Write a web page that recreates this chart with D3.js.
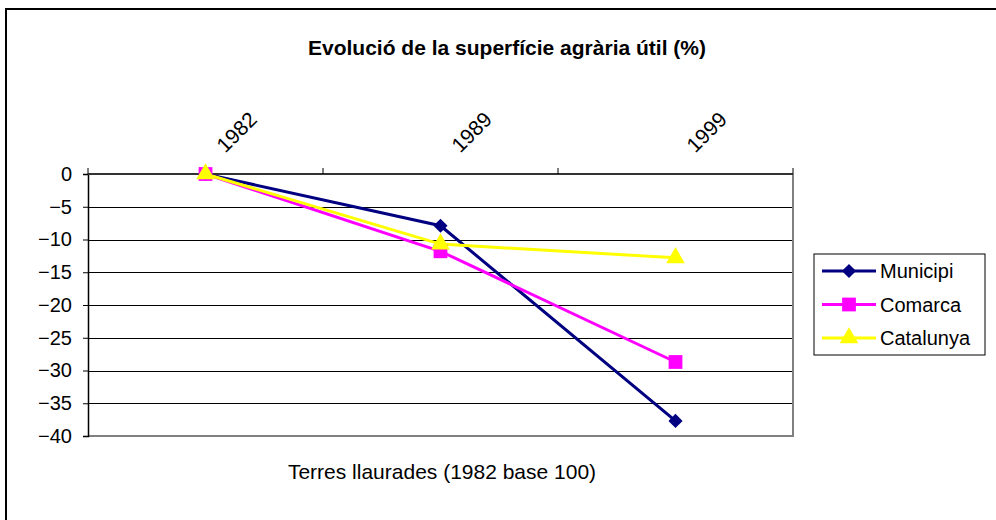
<!DOCTYPE html>
<html>
<head>
<meta charset="utf-8">
<script src="https://cdn.jsdelivr.net/npm/d3@7"></script>
<style>
  body { margin: 0; background: #fff; }
  text { font-family: "Liberation Sans", Arial, sans-serif; fill: #000; }
</style>
</head>
<body>
<div id="chart"></div>
<script>
var years = ["1982", "1989", "1999"];
var municipi = [0, -7.9, -37.7];
var comarca = [0, -11.8, -28.7];
var catalunya = [0, -10.7, -12.8];
var yTicks = [0, -5, -10, -15, -20, -25, -30, -35, -40];

// diamond = square turned 45 degrees
var series = [
    {name: "Municipi", values: municipi, color: "#000080", shape: d3.symbolSquare, size: 100, turn: 45},
    {name: "Comarca", values: comarca, color: "#ff00ff", shape: d3.symbolSquare, size: 190, turn: 0},
    {name: "Catalunya", values: catalunya, color: "#ffff00", shape: d3.symbolTriangle, size: 150, turn: 0}
];

var width = 996,
    height = 520,
    plotLeft = 88,
    plotRight = 793,
    plotTop = 174,
    plotBottom = 436;

var svg = d3.select('#chart')
    .append('svg')
    .attr('width', width)
    .attr('height', height);

// outer frame (runs off the right and bottom edges)
svg.append('rect')
    .attr('x', 6).attr('y', 9)
    .attr('width', 1100).attr('height', 600)
    .attr('fill', 'none')
    .attr('stroke', '#000')
    .attr('stroke-width', 2);

var x = d3.scaleBand().domain(years).range([plotLeft, plotRight]);
var y = d3.scaleLinear().domain([-40, 0]).range([plotBottom, plotTop]);

// gridlines
svg.append('g')
    .selectAll('line')
    .data(yTicks.filter(function (d) { return d < 0 && d > -40; }))
    .enter()
    .append('line')
    .attr('x1', plotLeft).attr('x2', plotRight)
    .attr('y1', function (d) { return Math.round(y(d)) + 0.5; })
    .attr('y2', function (d) { return Math.round(y(d)) + 0.5; })
    .attr('stroke', '#000')
    .attr('stroke-width', 1);

// plot border right + bottom (grey)
svg.append('path')
    .attr('d', 'M' + plotRight + ',' + plotTop + 'V' + plotBottom + 'H' + plotLeft)
    .attr('fill', 'none')
    .attr('stroke', '#808080')
    .attr('stroke-width', 2);

// y axis
var yAxis = svg.append('g')
    .attr('transform', 'translate(' + plotLeft + ',0)')
    .call(d3.axisLeft(y).tickValues(yTicks).tickSize(5).tickPadding(11).tickFormat(d3.format('d')));
yAxis.select('.domain').attr('stroke', '#000').attr('stroke-width', 1.5);
yAxis.selectAll('.tick line').attr('stroke', '#000');
yAxis.selectAll('text')
    .style('font-family', '"Liberation Sans", Arial, sans-serif')
    .style('font-size', '20px')
    .attr('fill', '#000');

// x axis on top, category boundaries as ticks
var xAxis = svg.append('g')
    .attr('transform', 'translate(0,' + plotTop + ')');
xAxis.append('line')
    .attr('x1', plotLeft).attr('x2', plotRight)
    .attr('y1', 0).attr('y2', 0)
    .attr('stroke', '#333')
    .attr('stroke-width', 2);
var bounds = years.map(function (d) { return x(d); }).concat([plotRight]);
xAxis.selectAll('.bt')
    .data(bounds)
    .enter()
    .append('line')
    .attr('class', 'bt')
    .attr('x1', function (d) { return d; })
    .attr('x2', function (d) { return d; })
    .attr('y1', 0).attr('y2', -6)
    .attr('stroke', '#000')
    .attr('stroke-width', 1);
xAxis.selectAll('.lbl')
    .data(years)
    .enter()
    .append('text')
    .attr('class', 'lbl')
    .attr('text-anchor', 'middle')
    .attr('dominant-baseline', 'central')
    .style('font-size', '21px')
    .attr('transform', function (d) {
        return 'translate(' + (x(d) + x.bandwidth() / 2 + 31) + ',-42) rotate(-45)';
    })
    .text(function (d) { return d; });

// lines and markers
var cx = function (i) { return x(years[i]) + x.bandwidth() / 2; };
var line = d3.line()
    .x(function (d, i) { return cx(i); })
    .y(function (d) { return y(d); });

series.forEach(function (s) {
    svg.append('path')
        .datum(s.values)
        .attr('d', line)
        .attr('fill', 'none')
        .attr('stroke', s.color)
        .attr('stroke-width', 3);
});
series.forEach(function (s) {
    svg.append('g')
        .selectAll('path')
        .data(s.values)
        .enter()
        .append('path')
        .attr('d', d3.symbol().type(s.shape).size(s.size))
        .attr('transform', function (d, i) {
            return 'translate(' + cx(i) + ',' + y(d) + ') rotate(' + s.turn + ')';
        })
        .attr('fill', s.color);
});

// title
svg.append('text')
    .attr('x', 507).attr('y', 55)
    .attr('text-anchor', 'middle')
    .style('font-size', '21px')
    .style('font-weight', 'bold')
    .text('Evolució de la superfície agrària útil (%)');

// bottom caption
svg.append('text')
    .attr('x', 442).attr('y', 479)
    .attr('text-anchor', 'middle')
    .style('font-size', '21px')
    .text('Terres llaurades (1982 base 100)');

// legend
var legend = svg.append('g').attr('transform', 'translate(814,254)');
legend.append('rect')
    .attr('width', 171).attr('height', 101)
    .attr('fill', '#fff')
    .attr('stroke', '#000')
    .attr('stroke-width', 1);
var item = legend.selectAll('.item')
    .data(series)
    .enter()
    .append('g')
    .attr('class', 'item')
    .attr('transform', function (d, i) { return 'translate(0,' + (17 + i * 33.5) + ')'; });
item.append('line')
    .attr('x1', 8).attr('x2', 62)
    .attr('stroke', function (d) { return d.color; })
    .attr('stroke-width', 3);
item.append('path')
    .attr('d', function (d) { return d3.symbol().type(d.shape).size(d.size)(); })
    .attr('transform', function (d) { return 'translate(35,0) rotate(' + d.turn + ')'; })
    .attr('fill', function (d) { return d.color; });
item.append('text')
    .attr('x', 66)
    .attr('dy', '0.35em')
    .style('font-size', '20px')
    .text(function (d) { return d.name; });
</script>
</body>
</html>
